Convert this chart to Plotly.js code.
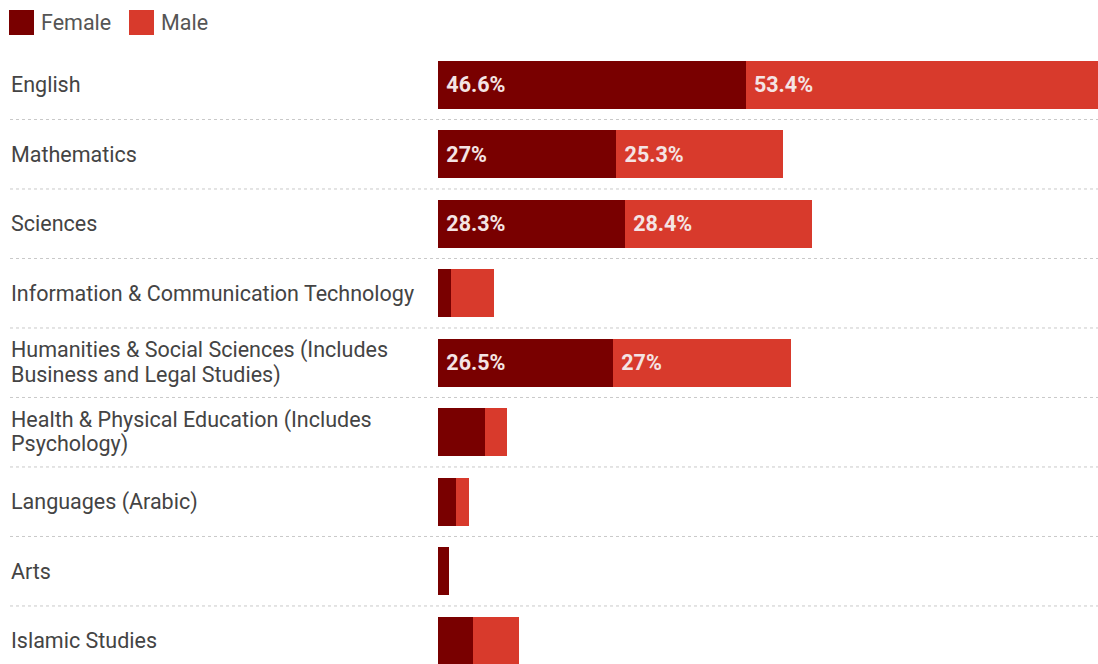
<!DOCTYPE html>
<html>
<head>
<meta charset="utf-8">
<script src="https://cdn.plot.ly/plotly-3.0.1.min.js"></script>
<style>
  html, body { margin: 0; padding: 0; background: #ffffff; }
  #chart { width: 1098px; height: 664px; }
</style>
</head>
<body>
<div id="chart"></div>
<script>
// ---- Data ----
const categories = [
  "English",
  "Mathematics",
  "Sciences",
  "Information & Communication Technology",
  "Humanities & Social Sciences (Includes<br>Business and Legal Studies)",
  "Health & Physical Education (Includes<br>Psychology)",
  "Languages (Arabic)",
  "Arts",
  "Islamic Studies"
];
const femaleValues = [46.6, 27, 28.3, 1.9, 26.5, 7.1, 2.7, 1.6, 5.3];
const maleValues   = [53.4, 25.3, 28.4, 6.6, 27, 3.3, 2.0, 0, 6.9];
const seriesNames = ["Female", "Male"];

// ---- Styling ----
const seriesColors = ["#790000", "#d83a2c"];
const FONT = "Roboto, 'Open Sans', sans-serif";
const FS = 21.5;
const LABEL_THRESHOLD = 10;

const W = 1098, H = 664;
const M = { l: 438, r: 0, t: 50, b: 0 };
const PW = W - M.l - M.r, PH = H - M.t - M.b;
const px2x = px => (px - M.l) / PW;          // pixel -> paper x
const px2y = py => (H - M.b - py) / PH;      // pixel -> paper y

function barLabels(vals) {
  return vals.map(v => v >= LABEL_THRESHOLD ? "\u00a0" + v + "%" : "");
}

function makeTrace(name, vals, color) {
  return {
    type: "bar",
    orientation: "h",
    name: name,
    y: categories,
    x: vals,
    marker: { color: color, line: { width: 0 } },
    text: barLabels(vals),
    textposition: "inside",
    insidetextanchor: "start",
    textangle: 0,
    constraintext: "none",
    insidetextfont: { family: FONT, size: FS, color: "#f4e4e4", weight: 700 },
    hoverinfo: "name+x",
    showlegend: false
  };
}

const traces = seriesNames.map((n, i) =>
  makeTrace(n, i === 0 ? femaleValues : maleValues, seriesColors[i]));

// ---- Category labels (left-aligned, full text) ----
const LINE_H = 24.5;
const annotations = [];
categories.forEach(c => {
  const lines = c.split("<br>");
  lines.forEach((ln, j) => {
    annotations.push({
      xref: "paper", yref: "y",
      x: px2x(9), y: c,
      xanchor: "left", yanchor: "middle",
      align: "left",
      text: ln,
      showarrow: false,
      yshift: ((lines.length - 1) / 2 - j) * LINE_H,
      font: { family: FONT, size: FS, color: "#444444" }
    });
  });
});

// ---- Legend (custom, large swatches) ----
const shapes = [];
const legendItems = [
  { sx: 9, tx: 39 },
  { sx: 129, tx: 159 }
];
seriesNames.forEach((n, i) => {
  const it = legendItems[i];
  shapes.push({
    type: "rect", xref: "paper", yref: "paper",
    x0: px2x(it.sx), x1: px2x(it.sx + 25),
    y0: px2y(35), y1: px2y(10),
    fillcolor: seriesColors[i], line: { width: 0 }
  });
  annotations.push({
    xref: "paper", yref: "paper",
    x: px2x(it.tx), y: px2y(22.5),
    xanchor: "left", yanchor: "middle",
    text: n, showarrow: false,
    font: { family: FONT, size: FS, color: "#555555" }
  });
});

// ---- Dotted row separators spanning the full width ----
for (let i = 0; i < categories.length - 1; i++) {
  shapes.push({
    type: "line",
    xref: "paper", yref: "y",
    x0: px2x(10), x1: 1,
    y0: i + 0.5, y1: i + 0.5,
    line: { color: "#c9c9c9", width: 1, dash: "dot" },
    layer: "below"
  });
}

const layout = {
  width: W,
  height: H,
  margin: { l: M.l, r: M.r, t: M.t, b: M.b, pad: 0 },
  paper_bgcolor: "#ffffff",
  plot_bgcolor: "#ffffff",
  barmode: "stack",
  bargap: 0.31,
  font: { family: FONT, size: FS, color: "#444444" },
  showlegend: false,
  xaxis: {
    range: [0, 100],
    visible: false,
    fixedrange: true
  },
  yaxis: {
    type: "category",
    range: [8.335, -0.5],
    showticklabels: false,
    showgrid: false,
    zeroline: false,
    showline: false,
    ticks: "",
    fixedrange: true
  },
  annotations: annotations,
  shapes: shapes
};

Plotly.newPlot("chart", traces, layout, { displayModeBar: false, responsive: false });
</script>
</body>
</html>
